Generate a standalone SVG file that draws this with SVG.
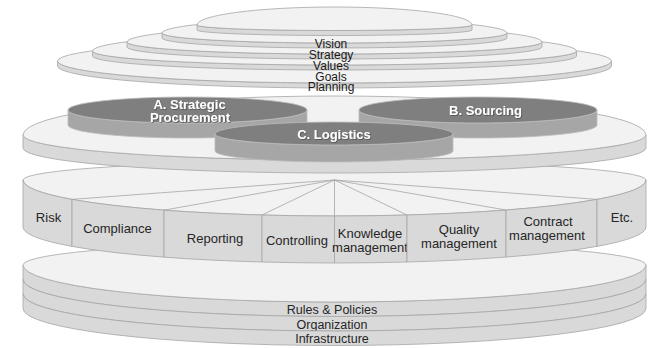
<svg xmlns="http://www.w3.org/2000/svg" width="654" height="348" viewBox="0 0 654 348">
  <defs>
    <style>
      .face { fill: #f2f2f2; stroke: #a6a6a6; stroke-width: 0.8; }
      .side { fill: #d9d9d9; stroke: #a6a6a6; stroke-width: 0.8; }
      .dface { fill: #7f7f7f; stroke: #bdbdbd; stroke-width: 0.8; }
      .dside { fill: #a6a6a6; stroke: #bdbdbd; stroke-width: 0.8; }
      .div { stroke: #a6a6a6; stroke-width: 0.8; fill: none; }
      .lbl { font-family: "Liberation Sans", Arial, sans-serif; font-size: 13px; fill: #262626; text-anchor: middle; }
      .top { font-family: "Liberation Sans", Arial, sans-serif; font-size: 12px; fill: #1a1a1a; text-anchor: middle; }
      .base { font-family: "Liberation Sans", Arial, sans-serif; font-size: 12.5px; fill: #262626; text-anchor: middle; }
      .dlbl { font-family: "Liberation Sans", Arial, sans-serif; font-size: 13px; font-weight: bold; fill: #ffffff; text-anchor: middle; filter: url(#shade); }
    </style>
    <filter id="shade" x="-10%" y="-30%" width="120%" height="160%">
      <feDropShadow dx="0.8" dy="0.8" stdDeviation="0.6" flood-color="#3a3a3a" flood-opacity="0.7"/>
    </filter>
  </defs>

  <!-- Foundation cylinder: three stacked bands -->
  <g id="foundation">
    <g id="rules-policies">
      <path class="side" d="M23,265 L23,279.5 A311.5,37 0 0 0 646,279.5 L646,265 A311.5,37 0 0 1 23,265 Z"/>
      <text class="base" x="332" y="314">Rules &amp; Policies</text>
    </g>
    <g id="organization">
      <path class="side" d="M23,279.5 L23,294 A311.5,37 0 0 0 646,294 L646,279.5 A311.5,37 0 0 1 23,279.5 Z"/>
      <text class="base" x="332" y="328.5">Organization</text>
    </g>
    <g id="infrastructure">
      <path class="side" d="M23,294 L23,308.5 A311.5,37 0 0 0 646,308.5 L646,294 A311.5,37 0 0 1 23,294 Z"/>
      <text class="base" x="332" y="342.5">Infrastructure</text>
    </g>
    <path class="face" d="M23,265 A311.5,23 0 0 1 646,265 A311.5,37 0 0 1 23,265 Z"/>
  </g>

  <!-- Support functions cylinder, split into segments -->
  <g id="functions">
    <path class="face" d="M23,180 A311.5,19 0 0 1 646,180 A311.5,36 0 0 1 23,180 Z"/>
    <g id="risk">
      <path class="side" d="M23,180 A311.5,36 0 0 0 72,199.38 L72,246.38 A311.5,36 0 0 1 23,227 Z"/>
      <text class="lbl" x="48.5" y="221.5">Risk</text>
    </g>
    <g id="compliance">
      <path class="side" d="M72,199.38 A311.5,36 0 0 0 164,210.13 L164,257.13 A311.5,36 0 0 1 72,246.38 Z"/>
      <text class="lbl" x="117.5" y="232.5">Compliance</text>
    </g>
    <g id="reporting">
      <path class="side" d="M164,210.13 A311.5,36 0 0 0 262,215.01 L262,262.01 A311.5,36 0 0 1 164,257.13 Z"/>
      <text class="lbl" x="215" y="242.5">Reporting</text>
    </g>
    <g id="controlling">
      <path class="side" d="M262,215.01 A311.5,36 0 0 0 334.5,216 L334.5,263 A311.5,36 0 0 1 262,262.01 Z"/>
      <text class="lbl" x="297" y="244.5">Controlling</text>
    </g>
    <g id="knowledge">
      <path class="side" d="M334.5,216 A311.5,36 0 0 0 407,215.01 L407,262.01 A311.5,36 0 0 1 334.5,263 Z"/>
      <text class="lbl" x="370" y="237.5">Knowledge</text>
      <text class="lbl" x="370" y="251.5">management</text>
    </g>
    <g id="quality">
      <path class="side" d="M407,215.01 A311.5,36 0 0 0 506,210.05 L506,257.05 A311.5,36 0 0 1 407,262.01 Z"/>
      <text class="lbl" x="459" y="233.5">Quality</text>
      <text class="lbl" x="459" y="247.5">management</text>
    </g>
    <g id="contract">
      <path class="side" d="M506,210.05 A311.5,36 0 0 0 597,199.38 L597,246.38 A311.5,36 0 0 1 506,257.05 Z"/>
      <text class="lbl" x="548" y="225.5">Contract</text>
      <text class="lbl" x="547" y="239.5">management</text>
    </g>
    <g id="etc">
      <path class="side" d="M597,199.38 A311.5,36 0 0 0 646,180 L646,227 A311.5,36 0 0 1 597,246.38 Z"/>
      <text class="lbl" x="622" y="221.5">Etc.</text>
    </g>
  </g>

  <!-- Radial dividers on the functions top face -->
  <g id="connectors">
    <path class="div" d="M334.5,180 L72,199.38 M334.5,180 L164,210.13 M334.5,180 L262,215.01 M334.5,180 L334.5,216 M334.5,180 L407,215.01 M334.5,180 L506,210.05 M334.5,180 L597,199.38"/>
  </g>

  <!-- Process platform -->
  <g id="process-platform">
    <path class="side" d="M23,135 L23,148 A311.5,25 0 0 0 646,148 L646,135 A311.5,25 0 0 1 23,135 Z"/>
    <path class="face" d="M23,135 A311.5,39 0 0 1 646,135 A311.5,25 0 0 1 23,135 Z"/>
  </g>

  <g id="strategic-procurement">
    <path class="dside" d="M68,110 L68,125 A119.5,13 0 0 0 307,125 L307,110 A119.5,13 0 0 1 68,110 Z"/>
    <path class="dface" d="M68,110 A119.5,13 0 0 1 307,110 A119.5,13 0 0 1 68,110 Z"/>
    <text class="dlbl" x="189.5" y="108.5">A. Strategic</text>
    <text class="dlbl" x="190" y="121.5">Procurement</text>
  </g>
  <g id="sourcing">
    <path class="dside" d="M359,110 L359,125 A119,13 0 0 0 597,125 L597,110 A119,13 0 0 1 359,110 Z"/>
    <path class="dface" d="M359,110 A119,13 0 0 1 597,110 A119,13 0 0 1 359,110 Z"/>
    <text class="dlbl" x="485.5" y="114.5">B. Sourcing</text>
  </g>
  <g id="logistics">
    <path class="dside" d="M215,134 L215,151 A119,11 0 0 0 453,151 L453,134 A119,11 0 0 1 215,134 Z"/>
    <path class="dface" d="M215,134 A119,12 0 0 1 453,134 A119,11 0 0 1 215,134 Z"/>
    <text class="dlbl" x="334" y="138.5">C. Logistics</text>
  </g>

  <!-- Stacked direction tiers -->
  <g id="tiers">
    <g id="tier-planning">
      <path class="side" d="M57.5,61 L57.5,66 A277,22 0 0 0 611.5,66 L611.5,61 A277,22 0 0 1 57.5,61 Z"/>
      <path class="face" d="M57.5,61 A277,21 0 0 1 611.5,61 A277,22 0 0 1 57.5,61 Z"/>
    </g>
    <g id="tier-goals">
      <path class="side" d="M92.5,51 L92.5,56 A242,14 0 0 0 576.5,56 L576.5,51 A242,14 0 0 1 92.5,51 Z"/>
      <path class="face" d="M92.5,51 A242,18 0 0 1 576.5,51 A242,14 0 0 1 92.5,51 Z"/>
    </g>
    <g id="tier-values">
      <path class="side" d="M127,42 L127,47 A207.5,12 0 0 0 542,47 L542,42 A207.5,12 0 0 1 127,42 Z"/>
      <path class="face" d="M127,42 A207.5,16 0 0 1 542,42 A207.5,12 0 0 1 127,42 Z"/>
    </g>
    <g id="tier-strategy">
      <path class="side" d="M162,33 L162,38 A172.5,10 0 0 0 507,38 L507,33 A172.5,10 0 0 1 162,33 Z"/>
      <path class="face" d="M162,33 A172.5,14 0 0 1 507,33 A172.5,10 0 0 1 162,33 Z"/>
    </g>
    <g id="tier-vision">
      <path class="side" d="M197,25 L197,30 A137.5,5.5 0 0 0 472,30 L472,25 A137.5,5.5 0 0 1 197,25 Z"/>
      <path class="face" d="M197,25 A137.5,18 0 0 1 472,25 A137.5,5.5 0 0 1 197,25 Z"/>
    </g>
    <text class="top" x="331" y="48">Vision</text>
    <text class="top" x="331" y="59">Strategy</text>
    <text class="top" x="331" y="69.5">Values</text>
    <text class="top" x="331" y="80.5">Goals</text>
    <text class="top" x="331" y="91">Planning</text>
  </g>
</svg>
